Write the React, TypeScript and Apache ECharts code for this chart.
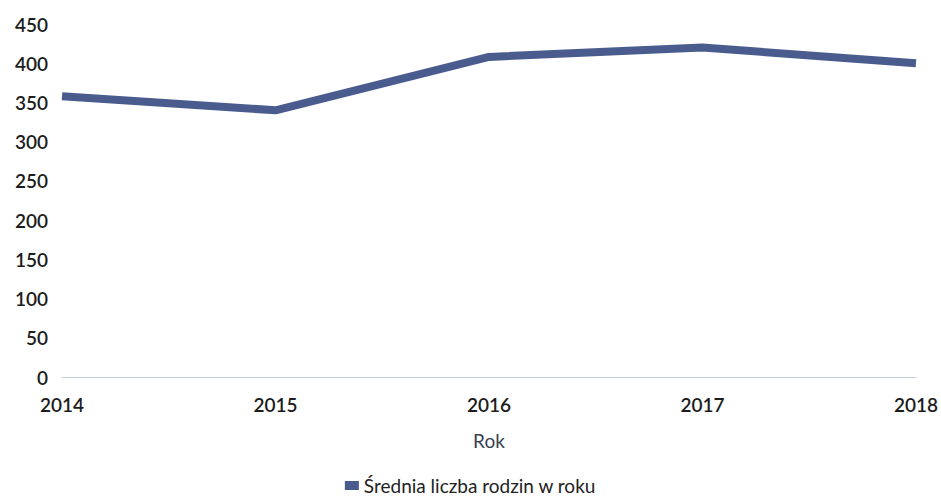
import React, { useEffect, useRef } from "react";
import * as echarts from "echarts";

const years = ["2014", "2015", "2016", "2017", "2018"];
const values = [358, 340, 408, 420, 400];
const seriesName = "Średnia liczba rodzin w roku";
const axisName = "Rok";

export default function App() {
  const ref = useRef<HTMLDivElement>(null);
  useEffect(() => {
    const chart = echarts.init(ref.current!, null, { renderer: "svg" });
    chart.setOption({
      animation: false,
      backgroundColor: "#ffffff",
      grid: { left: 62, right: 25, top: 24, bottom: 120, containLabel: false },
      legend: {
        top: 476,
        padding: 0,
        left: "center",
        icon: "rect",
        itemWidth: 14,
        itemHeight: 9,
        itemGap: 8,
        textStyle: { fontFamily: "Lato", fontSize: 19, color: "#222" },
        data: [seriesName],
      },
      xAxis: {
        type: "category",
        data: years,
        boundaryGap: false,
        name: axisName,
        nameLocation: "middle",
        nameGap: 54,
        nameTextStyle: { fontFamily: "Lato", fontSize: 19, color: "#3a3f52" },
        axisLine: { show: true, lineStyle: { color: "#c5cbe0", width: 1 } },
        axisTick: { show: false },
        axisLabel: {
          margin: 18,
          fontFamily: "Lato",
          fontWeight: 600,
          fontSize: 19,
          color: "#1c1c1c",
        },
      },
      yAxis: {
        type: "value",
        min: 0,
        max: 450,
        interval: 50,
        axisLine: { show: false },
        axisTick: { show: false },
        splitLine: { show: false },
        axisLabel: {
          margin: 14,
          fontFamily: "Lato",
          fontWeight: 600,
          fontSize: 19,
          color: "#1c1c1c",
        },
      },
      series: [
        {
          name: seriesName,
          type: "line",
          data: values,
          symbol: "none",
          smooth: false,
          itemStyle: { color: "#4a5c8e" },
          lineStyle: { color: "#4a5c8e", width: 8, cap: "butt", join: "round" },
        },
      ],
    });
    return () => chart.dispose();
  }, []);
  return (
    <div
      ref={ref}
      style={{ position: "fixed", left: 0, top: 0, width: 941, height: 497 }}
    />
  );
}
